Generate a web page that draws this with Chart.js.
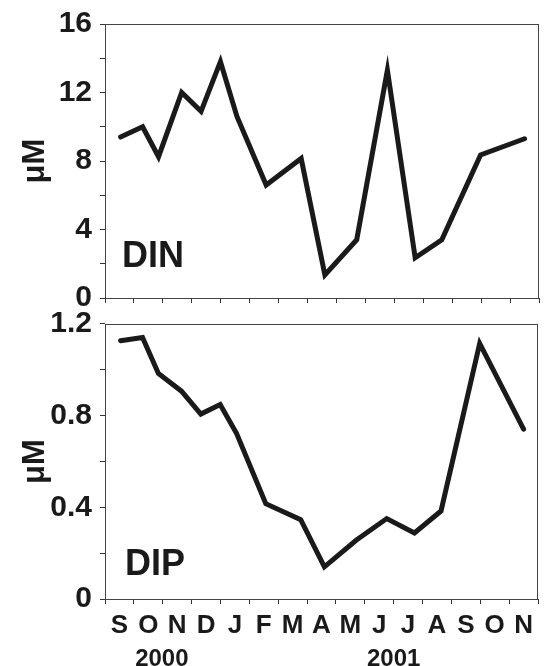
<!DOCTYPE html>
<html>
<head>
<meta charset="utf-8">
<script src="https://cdn.jsdelivr.net/npm/chart.js@4"></script>
<style>
    body { margin: 0; background: #fff; }
    #wrap { position: relative; width: 544px; height: 666px; overflow: hidden; }
    .panel { position: absolute; left: 0; width: 544px; }
    .tag { position: absolute; font: bold 36px "Liberation Sans", Arial, sans-serif; line-height: 36px; color: #1a1a1a; }
</style>
</head>
<body>
<div id="wrap">
    <div class="panel" style="top:0;height:322px"><canvas id="dinChart"></canvas></div>
    <div class="panel" style="top:300px;height:366px"><canvas id="dipChart"></canvas></div>
    <div class="tag" style="left:122px;top:237px">DIN</div>
    <div class="tag" style="left:125px;top:545px">DIP</div>
</div>
<script>
// --- DATA ---
const months = ['S', 'O', 'N', 'D', 'J', 'F', 'M', 'A', 'M', 'J', 'J', 'A', 'S', 'O', 'N'];
const years = ['2000', '2001'];
const yearPos = [1.97, 10.0];           // month position of year label
// sampling time, in months from start of Sep 2000
const sampleMonth = [0.54, 1.30, 1.85, 2.65, 3.32, 3.99, 4.56, 5.57, 6.78, 7.60, 8.70, 9.76, 10.72, 11.64, 12.98, 14.50];
const din = [9.4, 10.0, 8.25, 12.0, 10.9, 13.8, 10.6, 6.6, 8.15, 1.35, 3.4, 13.3, 2.35, 3.4, 8.35, 9.3];
const dip = [1.127, 1.141, 0.984, 0.907, 0.807, 0.849, 0.722, 0.416, 0.346, 0.14, 0.256, 0.351, 0.288, 0.384, 1.115, 0.741];
const dinTicks = ['0', '4', '8', '12', '16'];
const dipTicks = ['0', '0.4', '0.8', '1.2'];

const FONT = '"Liberation Sans", Arial, sans-serif';
const INK = '#1a1a1a';

// frame on top + right of plot area
const boxPlugin = {
    id: 'box',
    afterDraw(chart) {
        const a = chart.chartArea, ctx = chart.ctx;
        ctx.save();
        ctx.strokeStyle = '#444';
        ctx.lineWidth = 1;
        ctx.strokeRect(a.left + 0.5, a.top + 0.5, a.right - a.left - 1, a.bottom - a.top);
        ctx.restore();
    }
};

// tick marks on whole months, labels on mid-months
function monthTicks(scale) {
    const t = [];
    for (let k = 0; k <= 15; k++) {
        t.push({ value: k });
        if (k < 15) t.push({ value: k + 0.5 });
    }
    scale.ticks = t;
}

function makeChart(id, values, maxY, minorStep, labels, showMonths) {
    const majorStep = maxY / (labels.length - 1);
    const scales = {
        x: {
            type: 'linear', min: 0, max: 15,
            afterBuildTicks: monthTicks,
            afterFit(s) { s.height = showMonths ? 38 : 24; },
            border: { display: true, color: '#333', width: 1 },
            grid: {
                drawOnChartArea: false, tickLength: 5, lineWidth: 1,
                color: c => Number.isInteger(c.tick.value) ? '#333' : 'rgba(0,0,0,0)'
            },
            ticks: {
                display: showMonths, padding: 6, color: INK, autoSkip: false, maxRotation: 0,
                font: { family: FONT, size: 26, weight: 'bold' },
                callback: v => Number.isInteger(v) ? '' : months[Math.floor(v)]
            }
        },
        y: {
            min: 0, max: maxY,
            afterBuildTicks(scale) {
                const t = [];
                const n = Math.round(maxY / minorStep);
                for (let i = 0; i <= n; i++) t.push({ value: i * minorStep });
                scale.ticks = t;
            },
            afterFit(s) { s.width = 105; },
            border: { display: true, color: '#333', width: 1 },
            grid: { drawOnChartArea: false, tickLength: 5, color: '#333' },
            ticks: {
                padding: 8, color: INK,
                font: { family: FONT, size: 30, weight: 'bold', lineHeight: 1 },
                callback(v) {
                    const r = v / majorStep;
                    return Math.abs(r - Math.round(r)) < 1e-6 ? labels[Math.round(r)] : '';
                }
            },
            title: {
                display: true, text: 'μM', color: INK,
                font: { family: FONT, size: 31, weight: 'bold' },
                padding: { top: 17, bottom: 0 }
            }
        }
    };
    if (showMonths) {
        scales.x2 = {
            type: 'linear', position: 'bottom', min: 0, max: 15,
            afterBuildTicks(scale) { scale.ticks = yearPos.map(p => ({ value: p })); },
            afterFit(s) { s.height = 29; },
            border: { display: false },
            grid: { display: false },
            ticks: {
                padding: 0, color: INK, autoSkip: false, maxRotation: 0,
                font: { family: FONT, size: 24, weight: 'bold' },
                callback: (v, i) => years[i]
            }
        };
    }
    return new Chart(document.getElementById(id), {
        type: 'line',
        data: {
            datasets: [{
                data: sampleMonth.map((m, i) => ({ x: m, y: values[i] })),
                borderColor: INK, borderWidth: 5, pointRadius: 0,
                borderCapStyle: 'round', borderJoinStyle: 'miter', tension: 0
            }]
        },
        options: {
            responsive: true, maintainAspectRatio: false, animation: false,
            layout: { padding: { top: 24, right: 5, left: 0, bottom: 0 } },
            plugins: { legend: { display: false }, tooltip: { enabled: false } },
            scales: scales
        },
        plugins: [boxPlugin]
    });
}

makeChart('dinChart', din, 16, 2, dinTicks, false);
makeChart('dipChart', dip, 1.2, 0.2, dipTicks, true);
</script>
</body>
</html>
